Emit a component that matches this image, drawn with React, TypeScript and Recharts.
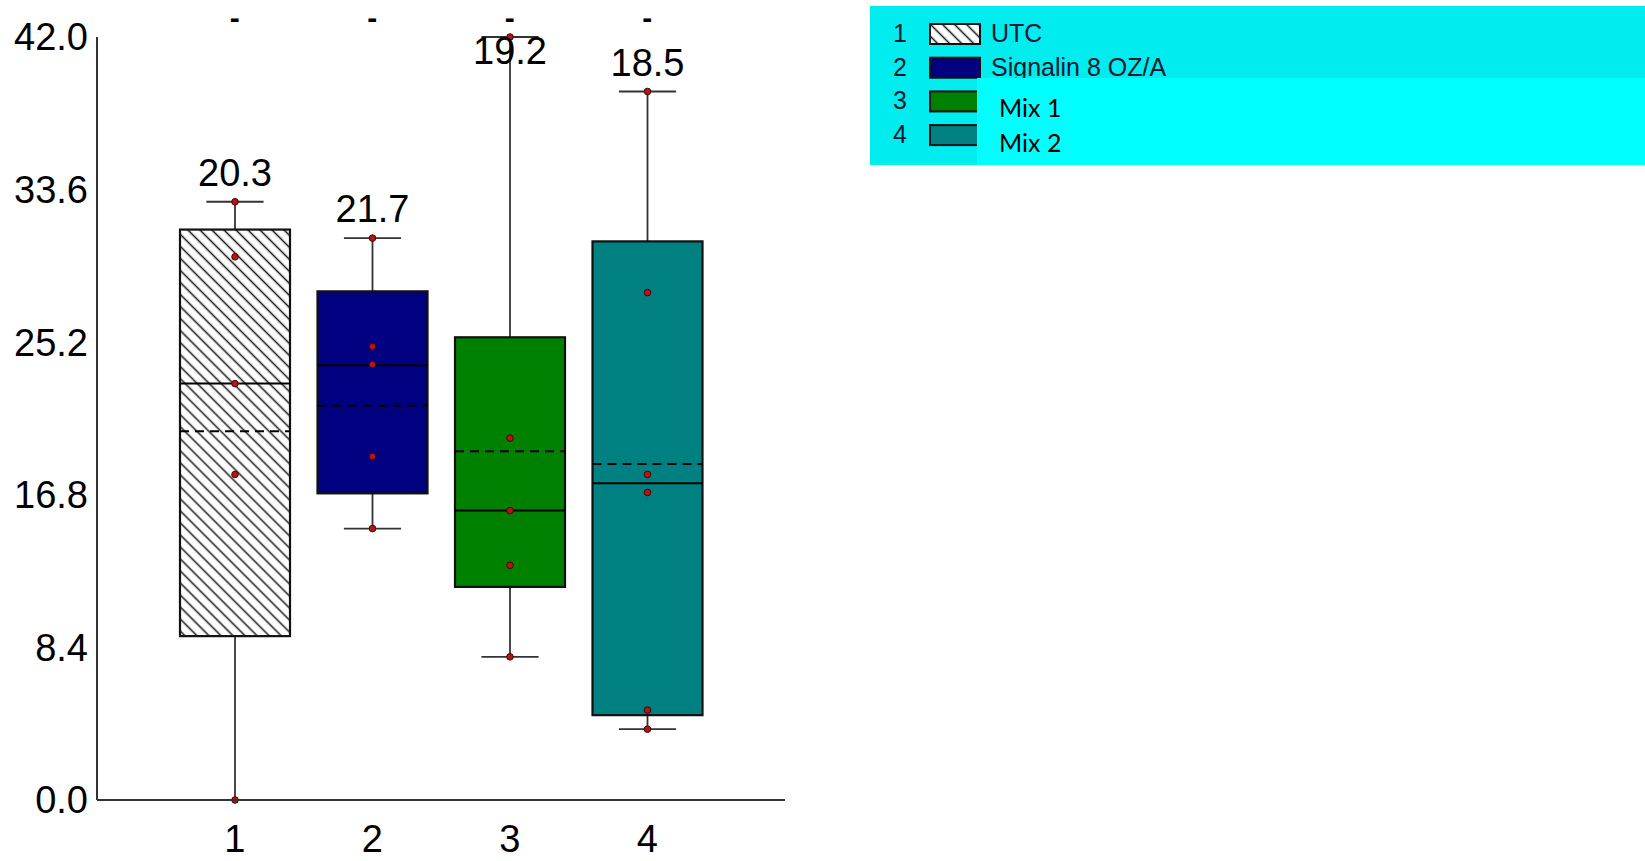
import React from 'react';
import { ComposedChart, Bar, XAxis, YAxis, Legend } from 'recharts';

const groups = ['1', '2', '3', '4'];
const names = ['UTC', 'Signalin 8 OZ/A', 'Mix 1', 'Mix 2'];
const colors = ['hatch', '#000080', '#008000', '#008080'];
const whiskerLow = [0, 14.94, 7.88, 3.9];
const q1 = [9.02, 16.88, 11.73, 4.67];
const medians = [22.92, 23.93, 15.93, 17.44];
const q3 = [31.4, 28.0, 25.47, 30.75];
const whiskerHigh = [32.93, 30.93, 42.0, 39.0];
const means = [20.3, 21.7, 19.2, 18.5];
const points = [
  [0, 17.92, 22.92, 29.9, 32.93],
  [14.94, 18.91, 23.97, 24.96, 30.93],
  [7.88, 12.92, 15.93, 19.92, 42.0],
  [3.9, 4.95, 16.93, 17.92, 27.93, 39.0],
];
const yTicks = [0, 8.4, 16.8, 25.2, 33.6, 42];
const yMax = 42;

const data = groups.map((g, i) => ({ group: g, range: [whiskerLow[i], whiskerHigh[i]] }));

const FONT = '"Liberation Sans", Arial, sans-serif';

const HatchDef = ({ id }: { id: string }) => (
  <defs>
    <pattern id={id} patternUnits="userSpaceOnUse" width={8.5} height={8.5} patternTransform="rotate(-45)">
      <rect width={8.5} height={8.5} fill="#fff" />
      <line x1={4.25} y1={0} x2={4.25} y2={8.5} stroke="#222" strokeWidth={1.6} />
    </pattern>
  </defs>
);

const BoxShape = (props: any) => {
  const { x, y, width, height, index } = props;
  const lo = whiskerLow[index];
  const hi = whiskerHigh[index];
  const top = Math.min(y, y + height);
  const bottom = Math.max(y, y + height);
  const yOf = (v: number) => bottom - ((v - lo) / (hi - lo)) * (bottom - top);
  const cx = x + width / 2;
  const capHalf = width * 0.26;
  const boxTop = yOf(q3[index]);
  const boxBottom = yOf(q1[index]);
  const fill = colors[index] === 'hatch' ? 'url(#hatchBox)' : colors[index];
  const labelY = Math.max(yOf(hi) - 16, yOf(yMax) + 27);
  return (
    <g>
      {index === 0 && <HatchDef id="hatchBox" />}
      <line x1={cx} x2={cx} y1={yOf(hi)} y2={yOf(lo)} stroke="#333" strokeWidth={1.8} />
      <line x1={cx - capHalf} x2={cx + capHalf} y1={yOf(hi)} y2={yOf(hi)} stroke="#333" strokeWidth={1.8} />
      <line x1={cx - capHalf} x2={cx + capHalf} y1={yOf(lo)} y2={yOf(lo)} stroke="#333" strokeWidth={1.8} />
      <rect x={x} y={boxTop} width={width} height={boxBottom - boxTop} fill={fill} stroke="#111" strokeWidth={2.2} />
      <line x1={x} x2={x + width} y1={yOf(medians[index])} y2={yOf(medians[index])} stroke="#000" strokeWidth={2} />
      <line x1={x} x2={x + width} y1={yOf(means[index])} y2={yOf(means[index])} stroke="#000" strokeWidth={2} strokeDasharray="9 6" />
      {points[index].map((p, k) => (
        <circle key={k} cx={cx} cy={yOf(p)} r={3.3} fill="#b01818" stroke="#4a0000" strokeWidth={1} />
      ))}
      <text x={cx} y={labelY} textAnchor="middle" fontSize={38} fontFamily={FONT} fill="#000">
        {means[index].toFixed(1)}
      </text>
    </g>
  );
};

const LegendBox = () => {
  const rowTop = (i: number) => 17 + i * 33.7;
  return (
    <svg width={775} height={159} style={{ display: 'block' }}>
      <HatchDef id="hatchLegend" />
      <rect x={0} y={0} width={775} height={159} fill="#00ecee" />
      {names.map((n, i) => (
        <g key={n}>
          <text x={30} y={rowTop(i) + 19} textAnchor="middle" fontSize={25} fontFamily={FONT} fill="#0a1a30">
            {i + 1}
          </text>
          <rect
            x={60}
            y={rowTop(i) + 1}
            width={50}
            height={20}
            fill={colors[i] === 'hatch' ? 'url(#hatchLegend)' : colors[i]}
            stroke="#111"
            strokeWidth={2}
          />
          {i < 2 && (
            <text x={121} y={rowTop(i) + 19} fontSize={25} fontFamily={FONT} fill="#0a1a30">
              {n}
            </text>
          )}
        </g>
      ))}
      {/* pasted-over box that relabels series 3 and 4 */}
      <rect x={107} y={72} width={668} height={87} fill="#00ffff" />
      <text x={129} y={111} fontSize={25} fontFamily="Lato, sans-serif" fill="#000">
        {names[2]}
      </text>
      <text x={129} y={146} fontSize={25} fontFamily="Lato, sans-serif" fill="#000">
        {names[3]}
      </text>
    </svg>
  );
};

export default function App() {
  return (
    <div style={{ position: 'absolute', left: 0, top: 0, width: 1645, height: 861, background: '#fff' }}>
      <ComposedChart
        width={1645}
        height={861}
        data={data}
        margin={{ top: 7, right: 860, bottom: 6, left: 0 }}
        style={{ fontFamily: FONT }}
      >
        <XAxis
          xAxisId="top"
          orientation="top"
          dataKey="group"
          height={30}
          padding={{ left: 69, right: 69 }}
          axisLine={false}
          tickLine={false}
          tickSize={0}
          tickMargin={9}
          tickFormatter={() => '-'}
          tick={{ fontSize: 30, fill: '#000', fontWeight: 'bold' }}
        />
        <XAxis
          dataKey="group"
          height={55}
          padding={{ left: 69, right: 69 }}
          axisLine={{ stroke: '#333', strokeWidth: 2 }}
          tickLine={false}
          tickSize={0}
          tickMargin={25}
          tick={{ fontSize: 38, fill: '#000' }}
        />
        <YAxis
          width={97}
          domain={[0, yMax]}
          ticks={yTicks}
          interval={0}
          tickFormatter={(v: number) => v.toFixed(1)}
          axisLine={{ stroke: '#333', strokeWidth: 2 }}
          tickLine={false}
          tickSize={0}
          tickMargin={9}
          tick={{ fontSize: 38, fill: '#000' }}
        />
        <Legend
          layout="vertical"
          align="center"
          verticalAlign="middle"
          content={() => <LegendBox />}
          wrapperStyle={{ position: 'absolute', left: 870, top: 6, width: 775, height: 159 }}
        />
        <Bar dataKey="range" barSize={110} shape={BoxShape} isAnimationActive={false} />
      </ComposedChart>
    </div>
  );
}
